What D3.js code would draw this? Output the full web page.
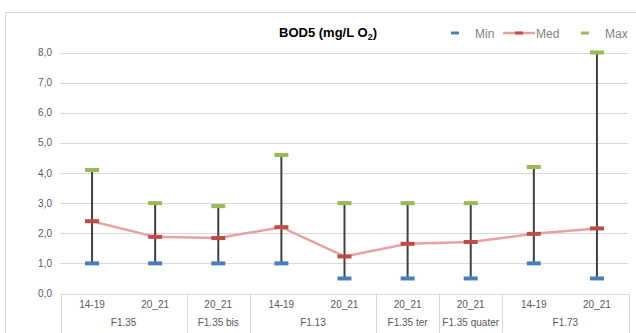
<!DOCTYPE html>
<html>
<head>
<meta charset="utf-8">
<script src="https://cdn.jsdelivr.net/npm/d3@7"></script>
<style>
  body { margin: 0; background: #fff; }
  svg { display: block; font-family: "Liberation Sans", Arial, sans-serif; }
</style>
</head>
<body>
<svg width="636" height="333"></svg>
<script>
// data
const groups = ["F1.35", "F1.35", "F1.35 bis", "F1.13", "F1.13", "F1.35 ter", "F1.35 quater", "F1.73", "F1.73"]
const periods = ["14-19", "20_21", "20_21", "14-19", "20_21", "20_21", "20_21", "14-19", "20_21"]
const minVals = [1.0, 1.0, 1.0, 1.0, 0.5, 0.5, 0.5, 1.0, 0.5]
const medVals = [2.4, 1.88, 1.84, 2.2, 1.23, 1.65, 1.71, 1.98, 2.16]
const maxVals = [4.1, 3.0, 2.9, 4.6, 3.0, 3.0, 3.0, 4.2, 8.0]
const yTicks = [0, 1, 2, 3, 4, 5, 6, 7, 8]

const svg = d3.select("svg")
const plotLeft = 60.5, plotRight = 628.5, plotTop = 52.5, plotBottom = 293.5

// chart area border
svg.append("rect")
  .attr("x", 5.5).attr("y", 12.5)
  .attr("width", 640).attr("height", 340)
  .attr("fill", "none").attr("stroke", "#d9d9d9")

const keys = d3.range(groups.length)
const x = d3.scaleBand().domain(keys).range([plotLeft, plotRight])
const y = d3.scaleLinear().domain([0, 8]).range([plotBottom, plotTop])
const cx = i => x(i) + x.bandwidth() / 2

// grid lines + y labels
svg.append("g").selectAll("line")
  .data(yTicks).enter().append("line")
  .attr("x1", plotLeft).attr("x2", plotRight)
  .attr("y1", d => Math.round(y(d)) + 0.5).attr("y2", d => Math.round(y(d)) + 0.5)
  .attr("stroke", "#d9d9d9").attr("stroke-width", 1)

svg.append("g").selectAll("text")
  .data(yTicks).enter().append("text")
  .attr("x", 52).attr("y", d => y(d) + 3.5)
  .attr("text-anchor", "end")
  .attr("font-size", "10px").attr("fill", "#595959")
  .text(d => d3.format(".1f")(d).replace(".", ","))

// category axis: separators between groups
let seps = [0]
for (let i = 1; i < groups.length; i++) {
  if (groups[i] !== groups[i - 1]) seps.push(i)
}
const sepX = seps.map(i => x(i)).concat([plotRight])
svg.append("g").selectAll("line")
  .data(sepX).enter().append("line")
  .attr("x1", d => Math.round(d) + 0.5).attr("x2", d => Math.round(d) + 0.5)
  .attr("y1", plotBottom).attr("y2", 333)
  .attr("stroke", "#d9d9d9")

svg.append("g").selectAll("text")
  .data(keys).enter().append("text")
  .attr("x", cx).attr("y", 308)
  .attr("text-anchor", "middle")
  .attr("font-size", "10px").attr("fill", "#595959")
  .text(i => periods[i])

const groupSpans = seps.map((s, k) => {
  const e = k + 1 < seps.length ? seps[k + 1] : groups.length
  return { name: groups[s], x0: x(s), x1: x(e - 1) + x.bandwidth() }
})
svg.append("g").selectAll("text")
  .data(groupSpans).enter().append("text")
  .attr("x", d => (d.x0 + d.x1) / 2).attr("y", 326)
  .attr("text-anchor", "middle")
  .attr("font-size", "10px").attr("fill", "#595959")
  .text(d => d.name)

// range whiskers
svg.append("g").selectAll("line")
  .data(keys).enter().append("line")
  .attr("x1", cx).attr("x2", cx)
  .attr("y1", i => y(minVals[i])).attr("y2", i => y(maxVals[i]))
  .attr("stroke", "#404040").attr("stroke-width", 2)

// median line
const line = d3.line().x(i => cx(i)).y(i => y(medVals[i]))
svg.append("path")
  .datum(keys)
  .attr("d", line)
  .attr("fill", "none")
  .attr("stroke", "#e6a3a2").attr("stroke-width", 2.5)

function markers(vals, color) {
  svg.append("g").selectAll("rect")
    .data(keys).enter().append("rect")
    .attr("x", i => cx(i) - 7).attr("y", i => y(vals[i]) - 2)
    .attr("width", 14).attr("height", 4)
    .attr("fill", color)
}
markers(minVals, "#4a7ebb")
markers(medVals, "#be4b48")
markers(maxVals, "#98b954")

// title
const title = svg.append("text")
  .attr("x", 328).attr("y", 37)
  .attr("text-anchor", "middle")
  .attr("font-size", "13px").attr("font-weight", "bold").attr("fill", "#000")
title.append("tspan").text("BOD5 (mg/L O")
title.append("tspan").attr("font-size", "9px").attr("dy", 3).text("2")
title.append("tspan").attr("dy", -3).text(")")

// legend
const lg = svg.append("g").attr("font-size", "12px").attr("fill", "#7f7f7f")
lg.append("rect").attr("x", 451).attr("y", 31.5).attr("width", 8).attr("height", 3).attr("fill", "#4a7ebb")
lg.append("text").attr("x", 475).attr("y", 37.5).text("Min")
lg.append("line").attr("x1", 503).attr("x2", 535).attr("y1", 33).attr("y2", 33)
  .attr("stroke", "#e6a3a2").attr("stroke-width", 2.5)
lg.append("rect").attr("x", 515).attr("y", 31.5).attr("width", 8).attr("height", 3).attr("fill", "#be4b48")
lg.append("text").attr("x", 536).attr("y", 37.5).text("Med")
lg.append("rect").attr("x", 581).attr("y", 31.5).attr("width", 8).attr("height", 3).attr("fill", "#98b954")
lg.append("text").attr("x", 605).attr("y", 37.5).text("Max")
</script>
</body>
</html>
